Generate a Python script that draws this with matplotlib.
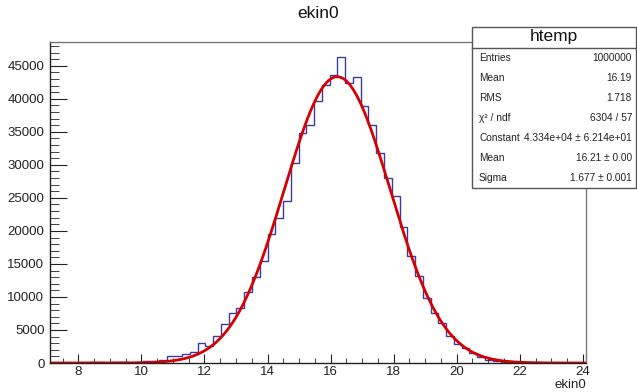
import numpy as np
import matplotlib
matplotlib.use("Agg")
import matplotlib.pyplot as plt
from matplotlib.patches import Rectangle
from matplotlib.ticker import MultipleLocator

plt.rcParams['font.family'] = ['Liberation Sans', 'DejaVu Sans']

# ---- data ----
x_min, x_max, n_bins = 7.1, 24.1, 69
counts = [0, 0, 0, 0, 30, 80, 80, 60, 100, 100,
          60, 150, 250, 300, 500, 1000, 1050, 1300, 1700, 3000,
          2600, 4100, 5900, 7500, 8300, 10800, 12950, 15500, 19550, 22000,
          24600, 30300, 34760, 36020, 39720, 42100, 43670, 46400, 42400, 43270,
          38960, 36020, 31800, 28000, 25300, 20570, 16160, 13220, 9830, 7550,
          6000, 4100, 2950, 2200, 1470, 870, 460, 250, 150, 80,
          40, 20, 10, 5, 0, 0, 0, 0, 0]
fit_constant, fit_mean, fit_sigma = 4.334e4, 16.21, 1.677

title = "ekin0"
xlabel = "ekin0"
stats_title = "htemp"
stats_rows = [("Entries", "1000000"),
              ("Mean", "16.19"),
              ("RMS", "1.718"),
              ("\u03c7\u00b2 / ndf", "6304 / 57"),
              ("Constant", "4.334e+04 \u00b1 6.214e+01"),
              ("Mean", "16.21 \u00b1 0.00"),
              ("Sigma", "1.677 \u00b1 0.001")]

# ---- figure ----
W, H = 637, 392
fig = plt.figure(figsize=(W / 100, H / 100), dpi=100)
L, R, T, B = 50, 586, 42, 363
ax = fig.add_axes([L / W, 1 - B / H, (R - L) / W, (B - T) / H])

edges = np.linspace(x_min, x_max, n_bins + 1)
ax.stairs(counts, edges, color='#3a3aa0', lw=1.0)

xf = np.linspace(x_min, x_max, 600)
yf = fit_constant * np.exp(-0.5 * ((xf - fit_mean) / fit_sigma) ** 2)
ax.plot(xf, yf, color='#d40000', lw=2.0)

ax.set_xlim(x_min, x_max)
ax.set_ylim(0, 48600)
ax.xaxis.set_major_locator(MultipleLocator(2))
ax.xaxis.set_minor_locator(MultipleLocator(0.5))
ax.yaxis.set_major_locator(MultipleLocator(5000))
ax.yaxis.set_minor_locator(MultipleLocator(1000))
ax.tick_params(axis='both', which='both', direction='in', top=False, right=False,
               labelsize=9.5, colors='#222222')
ax.tick_params(axis='y', which='major', length=12, pad=4)
ax.tick_params(axis='y', which='minor', length=6.5)
ax.tick_params(axis='x', which='major', length=6.5, pad=2.5)
ax.tick_params(axis='x', which='minor', length=3.3)
for s in ['left', 'bottom']:
    ax.spines[s].set_color('#222222')
    ax.spines[s].set_linewidth(1.0)
for s in ['top', 'right']:
    ax.spines[s].set_color('#777777')
    ax.spines[s].set_linewidth(1.0)

fig.text(318 / W, 1 - 14 / H, title, ha='center', va='center', fontsize=12.5, color='#111111')
fig.text(586 / W, 1 - 385.5 / H, xlabel, ha='right', va='center', fontsize=9.5, color='#222222')

# ---- stats box ----
bx0, bx1, by0, by1 = 472, 636, 27, 188
fig.patches.append(Rectangle((bx0 / W, 1 - by1 / H), (bx1 - bx0) / W, (by1 - by0) / H,
                             transform=fig.transFigure, facecolor='white',
                             edgecolor='#555555', lw=1.0, zorder=5))
fig.lines.append(plt.Line2D([bx0 / W, bx1 / W], [1 - 47.5 / H, 1 - 47.5 / H],
                            transform=fig.transFigure, color='#555555', lw=1.0, zorder=6))
fig.text((bx0 + bx1) / 2 / W, 1 - 37 / H, stats_title, ha='center', va='center',
         fontsize=12.5, color='#111111', zorder=7)
for i, (k, v) in enumerate(stats_rows):
    yy = 1 - (58 + 20 * i) / H
    fig.text(479 / W, yy, k, ha='left', va='center', fontsize=7.3, color='#222222', zorder=7)
    fig.text(632 / W, yy, v, ha='right', va='center', fontsize=7.3, color='#222222', zorder=7)

fig.savefig("out.png", dpi=100)
